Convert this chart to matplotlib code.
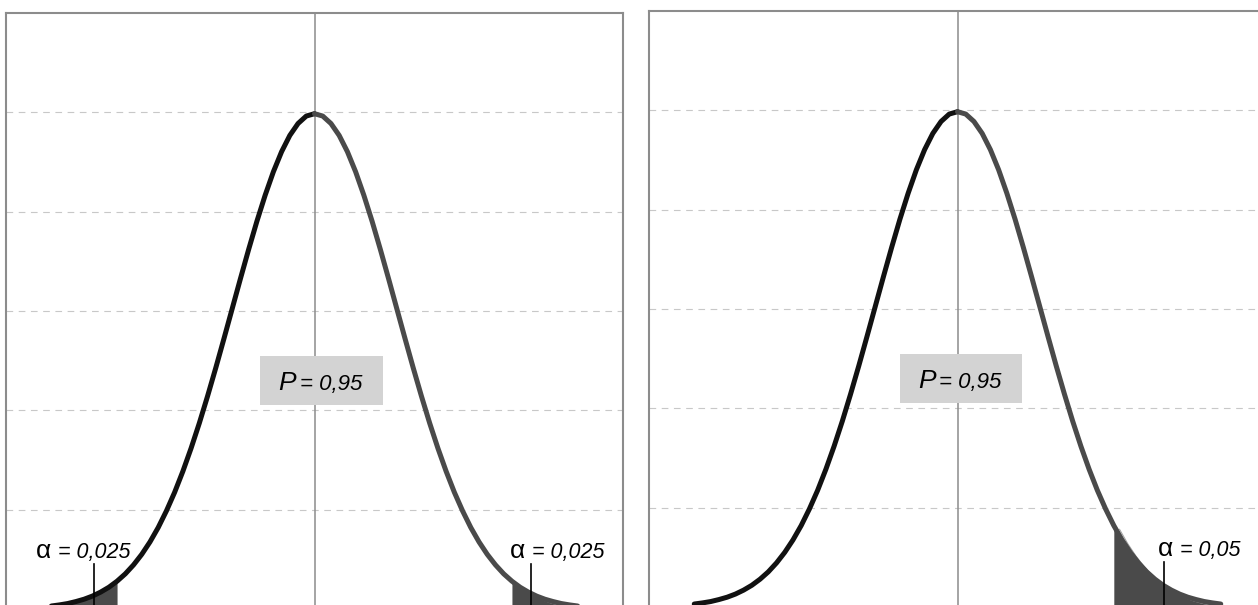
import numpy as np
import matplotlib.pyplot as plt
from matplotlib.patches import Rectangle

plt.rcParams['font.family'] = ['Liberation Sans', 'DejaVu Sans']

# x grid of the density curve (in sigma units) and the curve heights
z_values = [round(-3.2 + 0.1 * i, 1) for i in range(65)]
density = [0.0024, 0.0033, 0.0044, 0.0060, 0.0079, 0.0104, 0.0136, 0.0175, 0.0224, 0.0283,
           0.0355, 0.0440, 0.0540, 0.0656, 0.0790, 0.0940, 0.1109, 0.1295, 0.1497, 0.1714,
           0.1942, 0.2179, 0.2420, 0.2661, 0.2897, 0.3123, 0.3332, 0.3521, 0.3683, 0.3814,
           0.3910, 0.3970, 0.3989, 0.3970, 0.3910, 0.3814, 0.3683, 0.3521, 0.3332, 0.3123,
           0.2897, 0.2661, 0.2420, 0.2179, 0.1942, 0.1714, 0.1497, 0.1295, 0.1109, 0.0940,
           0.0790, 0.0656, 0.0540, 0.0440, 0.0355, 0.0283, 0.0224, 0.0175, 0.0136, 0.0104,
           0.0079, 0.0060, 0.0044, 0.0033, 0.0024]

grid_levels = [0.08, 0.16, 0.24, 0.32, 0.40]

# left chart: two tails, right chart: one tail
left_tails = [(-9, -2.4), (2.4, 9)]
right_tails = [(1.9, 9)]
left_alpha_labels = ['= 0,025', '= 0,025']
right_alpha_labels = ['= 0,05']
left_leaders = [-2.68, 2.63]
right_leaders = [2.51]
left_label_x = [-3.39, 2.37]
right_label_x = [2.43]
p_label = '= 0,95'

z = np.array(z_values)
y = np.array(density)


def draw_panel(ax, tails, labels, label_x, leaders, box_left):
    ax.set_xlim(-3.75, 3.75)
    ax.set_ylim(0, 0.48)
    ax.set_facecolor('white')
    for side in ['left', 'top', 'right', 'bottom']:
        ax.spines[side].set_color('#8c8c8c')
        ax.spines[side].set_linewidth(1.5)
    ax.set_xticks([])
    ax.set_yticks(grid_levels)
    ax.set_yticklabels([])
    ax.tick_params(length=0)
    ax.yaxis.grid(True, color='#c8c8c8', linestyle=(0, (6, 5)), linewidth=0.8)
    ax.set_axisbelow(True)

    # centre line
    ax.axvline(0, color='#8c8c8c', linewidth=1.1, zorder=1)

    # shaded tails
    for lo, hi in tails:
        mask = (z >= lo) & (z <= hi)
        ax.fill_between(z[mask], 0, y[mask], color='#4a4a4a', linewidth=0, zorder=2)
        if lo > 0:
            ax.plot(z[mask] + 0.07, y[mask] - 0.003, color='#a0a0a0', linewidth=0.7,
                    zorder=3)

    # curve, left half black and right half dark grey
    ax.plot(z[z <= 0], y[z <= 0], color='#111111', linewidth=3.6, zorder=4,
            solid_capstyle='round')
    ax.plot(z[z >= 0], y[z >= 0], color='#4a4a4a', linewidth=3.6, zorder=4,
            solid_capstyle='round')

    # alpha labels with leader lines
    for lx, txt, lead in zip(label_x, labels, leaders):
        ax.text(lx, 0.041, '\u03b1', fontsize=19, va='baseline', ha='left', zorder=5)
        ax.text(lx + 0.27, 0.041, txt, fontsize=15.5, style='italic', va='baseline',
                ha='left', zorder=5)
        ax.plot([lead, lead], [0, 0.036], color='black', linewidth=1.2, zorder=5)

    # P box
    ax.add_patch(Rectangle((box_left, 0.164), 1.49, 0.04, facecolor='#d3d3d3',
                           edgecolor='none', zorder=3))
    ax.text(box_left + 0.22, 0.176, 'P', fontsize=19, style='italic', va='baseline',
            ha='left', zorder=5)
    ax.text(box_left + 0.48, 0.176, p_label, fontsize=16, style='italic',
            va='baseline', ha='left', zorder=5)


fig = plt.figure(figsize=(12.58, 6.05), dpi=100)
ax1 = fig.add_axes([6 / 1258, -4 / 605, 617 / 1258, 596 / 605])
ax2 = fig.add_axes([649 / 1258, -2 / 605, 617 / 1258, 596 / 605])

draw_panel(ax1, left_tails, left_alpha_labels, left_label_x, left_leaders, -0.66)
draw_panel(ax2, right_tails, right_alpha_labels, right_label_x, right_leaders, -0.70)

fig.savefig('out.png', dpi=100, facecolor='white')
